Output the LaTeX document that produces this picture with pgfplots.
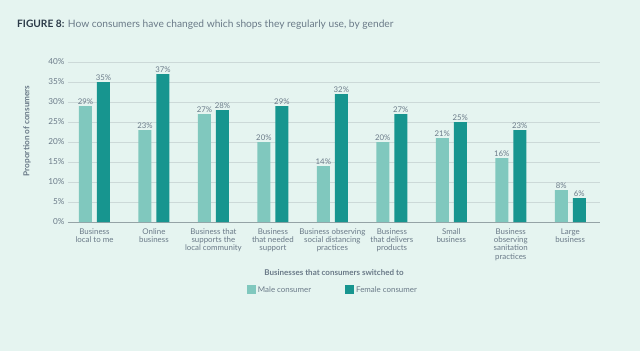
\documentclass[border=0pt]{standalone}
\usepackage{pgfplots}
\pgfplotsset{compat=1.18}
\usepackage{fontspec}
\setmainfont{Lato}
\definecolor{bgc}{HTML}{E5F4F0}
\definecolor{malec}{HTML}{80C8BE}
\definecolor{femalec}{HTML}{17958F}
\definecolor{txt}{HTML}{6A7A88}
\definecolor{ttl}{HTML}{2B3A48}
\definecolor{gridc}{HTML}{CCD9D8}
\definecolor{axc}{HTML}{95A3A6}
\begin{document}
\begin{tikzpicture}
\fill[bgc] (0,0) rectangle (640pt,351pt);
\useasboundingbox (0,0) rectangle (640pt,351pt);
\node[anchor=west,inner sep=0pt,font=\fontsize{10.2}{12}\selectfont] at (17pt,326pt) {\textcolor{ttl}{\bfseries FIGURE 8:} \textcolor{txt}{How consumers have changed which shops they regularly use, by gender}};
\begin{axis}[
  at={(68pt,129pt)}, anchor=south west,
  scale only axis, width=532pt, height=160pt,
  xmin=-0.445, xmax=8.5, ymin=0, ymax=40,
  ybar=5pt, bar width=13pt,
  axis x line*=bottom, axis y line*=left,
  x axis line style={draw=axc, line width=0.8pt, -},
  y axis line style={draw=none},
  major tick length=0pt,
  ytick={0,5,...,40},
  yticklabel={\pgfmathprintnumber{\tick}\%},
  ymajorgrids, grid style={draw=gridc, line width=0.6pt},
  xtick={0,...,8},
  xticklabels={{Business\\local to me},{Online\\business},{Business that\\supports the\\local community},{Business\\that needed\\support},{Business observing\\social distancing\\practices},{Business\\that delivers\\products},{Small\\business},{Business\\observing\\sanitation\\practices},{Large\\business}},
  xticklabel style={align=center, font=\fontsize{7.9}{8.3}\selectfont, text=txt, anchor=north, yshift=-3pt},
  yticklabel style={font=\fontsize{8.2}{9}\selectfont, text=txt},
  /pgf/number format/assume math mode=true,
  xlabel={Businesses that consumers switched to},
  xlabel style={at={(0.5,-0.319)}, anchor=center, font=\fontsize{8}{9}\selectfont\bfseries, text=txt},
  ylabel={Proportion of consumers},
  ylabel style={at={(-0.077,0.57)}, anchor=center, rotate=0, font=\fontsize{8.2}{9}\selectfont\bfseries, text=txt},
  nodes near coords={\pgfmathprintnumber{\pgfplotspointmeta}\%},
  nodes near coords style={font=\fontsize{7.8}{8}\selectfont, text=txt, anchor=south, inner sep=1.5pt},
  legend style={at={(0.498,-0.425)}, anchor=center, draw=none, fill=none, legend columns=2, font=\fontsize{7.9}{9}\selectfont, text=txt, /tikz/every even column/.append style={column sep=32pt}},
  legend image code/.code={\fill[#1] (0pt,-4pt) rectangle (9pt,5pt);},
]
\addplot[fill=malec, draw=none] coordinates {(0,29) (1,23) (2,27) (3,20) (4,14) (5,20) (6,21) (7,16) (8,8)};
\addplot[fill=femalec, draw=none] coordinates {(0,35) (1,37) (2,28) (3,29) (4,32) (5,27) (6,25) (7,23) (8,6)};
\legend{Male consumer, Female consumer}
\end{axis}
\end{tikzpicture}
\end{document}
